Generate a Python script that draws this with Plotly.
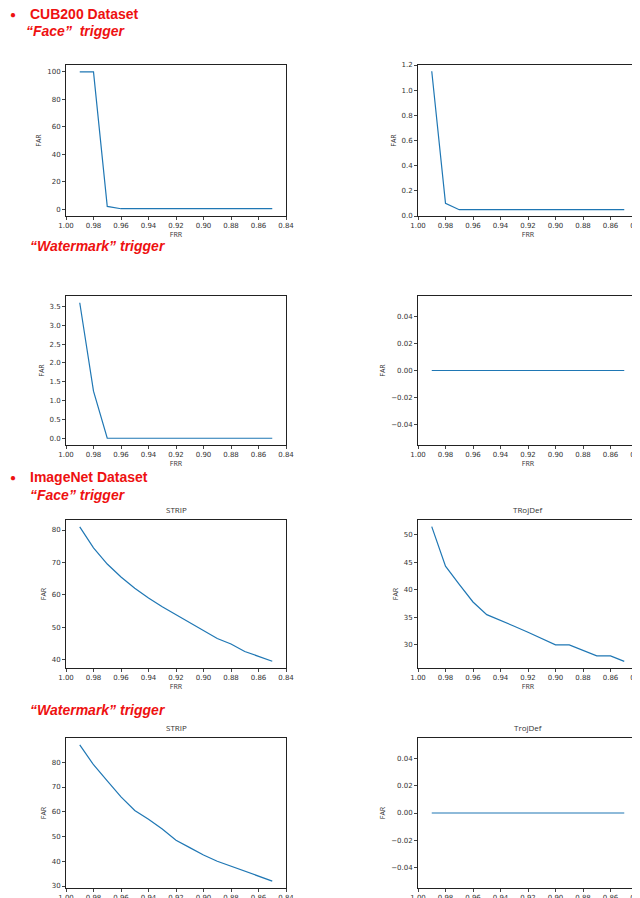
import plotly.graph_objects as go

frr = [0.99, 0.98, 0.97, 0.96, 0.95, 0.94, 0.93, 0.92, 0.91, 0.90, 0.89, 0.88, 0.87, 0.86, 0.85]
cub_face_strip = [100, 100, 2, 0.3, 0.3, 0.3, 0.3, 0.3, 0.3, 0.3, 0.3, 0.3, 0.3, 0.3, 0.3]
cub_face_trojdef = [1.15, 0.1, 0.05, 0.05, 0.05, 0.05, 0.05, 0.05, 0.05, 0.05, 0.05, 0.05, 0.05, 0.05, 0.05]
cub_wm_strip = [3.6, 1.25, 0, 0, 0, 0, 0, 0, 0, 0, 0, 0, 0, 0, 0]
cub_wm_trojdef = [0] * 15
img_face_strip = [81, 74.5, 69.5, 65.5, 62, 59, 56.3, 53.8, 51.5, 49, 46.5, 44.8, 42.5, 41, 39.5]
img_face_trojdef = [51.5, 44.3, 41, 37.8, 35.5, 34.5, 33.4, 32.3, 31.2, 30, 30, 29, 28, 28, 27]
img_wm_strip = [87, 79, 72.5, 66, 60.5, 57, 53, 48.5, 45.5, 42.5, 40, 38, 36, 34, 32]
img_wm_trojdef = [0] * 15
xticks = [1.00, 0.98, 0.96, 0.94, 0.92, 0.90, 0.88, 0.86, 0.84]

W, H = 640, 898
panels = [
    (cub_face_strip, 58, 278, 57, 208, [-5, 105], [0, 20, 40, 60, 80, 100], "", "d"),
    (cub_face_trojdef, 410, 630, 57, 208, [0, 1.2], [0, .2, .4, .6, .8, 1.0, 1.2], "", ".1f"),
    (cub_wm_strip, 58, 278, 288, 437, [-0.18, 3.78], [0, .5, 1, 1.5, 2, 2.5, 3, 3.5], "", ".1f"),
    (cub_wm_trojdef, 410, 630, 288, 437, [-0.055, 0.055], [-0.04, -0.02, 0, 0.02, 0.04], "", ".2f"),
    (img_face_strip, 58, 278, 512, 660, [37.4, 83.1], [40, 50, 60, 70, 80], "STRIP", "d"),
    (img_face_trojdef, 410, 630, 512, 660, [25.8, 52.7], [30, 35, 40, 45, 50], "TRojDef", "d"),
    (img_wm_strip, 58, 278, 730, 880, [29.2, 89.8], [30, 40, 50, 60, 70, 80], "STRIP", "d"),
    (img_wm_trojdef, 410, 630, 730, 880, [-0.055, 0.055], [-0.04, -0.02, 0, 0.02, 0.04], "TrojDef", ".2f"),
]

fig = go.Figure()
ann = []
for i, (ys, x0, x1, y0, y1, yr, yt, title, fmt) in enumerate(panels, start=1):
    xa = "xaxis" if i == 1 else f"xaxis{i}"
    ya = "yaxis" if i == 1 else f"yaxis{i}"
    fig.add_trace(go.Scatter(x=frr, y=ys, mode="lines", line=dict(color="#1f77b4", width=1.2),
                             xaxis=f"x{i}" if i > 1 else "x", yaxis=f"y{i}" if i > 1 else "y", showlegend=False))
    common = dict(showline=True, mirror=True, linecolor="#222", linewidth=1, ticks="outside", ticklen=3,
                  tickfont=dict(size=7, color="#333", family="DejaVu Sans"), showgrid=False, zeroline=False,
                  automargin=False)
    fig.layout[xa] = dict(domain=[x0 / W, x1 / W], range=[1.0, 0.84], tickvals=xticks,
                          ticktext=[f"{v:.2f}" for v in xticks], anchor=f"y{i}" if i > 1 else "y",
                          title=dict(text="FRR", font=dict(size=7, color="#333"), standoff=2), **common)
    fig.layout[ya] = dict(domain=[1 - y1 / H, 1 - y0 / H], range=yr, tickvals=yt, tickformat=fmt,
                          anchor=f"x{i}" if i > 1 else "x",
                          title=dict(text="FAR", font=dict(size=7, color="#333"), standoff=4), **common)
    if title:
        ann.append(dict(text=title, x=(x0 + x1) / 2 / W, y=1 - (y0 - 3) / H, xref="paper", yref="paper",
                        xanchor="center", yanchor="bottom", showarrow=False, font=dict(size=8, color="#333")))

red = dict(color="#ee1111", family="Liberation Sans", size=14)
heads = [("<b>CUB200 Dataset</b>", 20, 6), ("<b><i>“Face”  trigger</i></b>", 16, 23),
         ("<b><i>“Watermark” trigger</i></b>", 20, 238), ("<b>ImageNet Dataset</b>", 20, 469),
         ("<b><i>“Face” trigger</i></b>", 20, 487), ("<b><i>“Watermark” trigger</i></b>", 20, 702)]
for t, x, y in heads:
    ann.append(dict(text=t, x=x / W, y=1 - y / H, xref="paper", yref="paper", xanchor="left",
                    yanchor="middle", showarrow=False, font=red))
for y in (6, 469):
    ann.append(dict(text="●", x=0 / W, y=1 - y / H, xref="paper", yref="paper", xanchor="left",
                    yanchor="middle", showarrow=False, font=dict(color="#ee1111", size=10)))

fig.update_layout(width=W, height=H, margin=dict(l=0, r=0, t=0, b=0), plot_bgcolor="white",
                  paper_bgcolor="white", annotations=ann)
fig.write_html("out.html")
